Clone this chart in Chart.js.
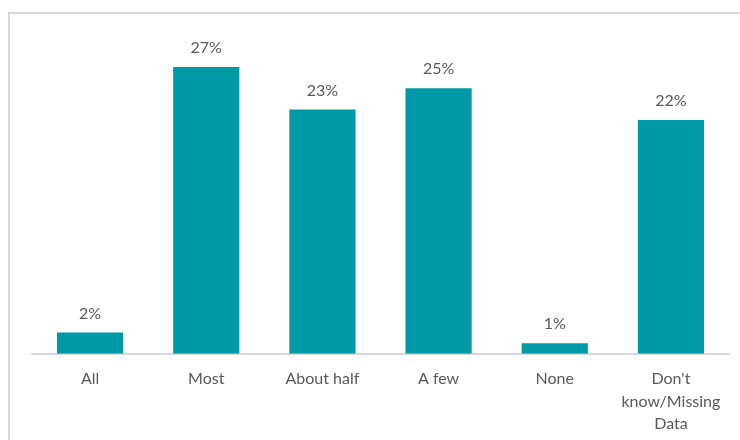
<!DOCTYPE html>
<html>
<head>
<meta charset="utf-8">
<script src="https://cdn.jsdelivr.net/npm/chart.js@4/dist/chart.umd.min.js"></script>
<style>
  html, body { margin: 0; padding: 0; background: #fff; }
  #wrap { position: relative; width: 740px; height: 440px; }
  #frame { position: absolute; left: 8px; top: 12px; right: -4px; bottom: -4px;
           border-left: 2px solid #d9d9d9; border-top: 2px solid #d9d9d9; pointer-events: none; }
  canvas { position: absolute; left: 0; top: 0; }
</style>
</head>
<body>
<div id="wrap">
  <canvas id="c" width="740" height="440"></canvas>
  <div id="frame"></div>
</div>
<script>
const categories = ["All", "Most", "About half", "A few", "None", ["Don't", "know/Missing", "Data"]];
const shares = [2, 27, 23, 25, 1, 22];

const barColor = "#009aa6";
const textColor = "#595959";
const fontFamily = "Lato, 'Open Sans', sans-serif";

const valueLabels = {
  id: "valueLabels",
  afterDatasetsDraw(chart) {
    const ctx = chart.ctx;
    const meta = chart.getDatasetMeta(0);
    ctx.save();
    ctx.fillStyle = textColor;
    ctx.font = "16px " + fontFamily;
    ctx.textAlign = "center";
    ctx.textBaseline = "middle";
    meta.data.forEach((bar, i) => {
      ctx.fillText(shares[i] + "%", bar.x, bar.y - 19);
    });
    ctx.restore();
  }
};

new Chart(document.getElementById("c"), {
  type: "bar",
  data: {
    labels: categories,
    datasets: [{
      data: shares,
      backgroundColor: barColor,
      borderWidth: 0,
      barPercentage: 0.57,
      categoryPercentage: 1
    }]
  },
  options: {
    responsive: false,
    animation: false,
    layout: { padding: { left: 32, right: 11, top: 35, bottom: -9 } },
    plugins: { legend: { display: false }, tooltip: { enabled: false } },
    scales: {
      x: {
        grid: { display: false, drawTicks: false },
        border: { color: "#d9d9d9", width: 2 },
        ticks: { color: textColor, font: { family: fontFamily, size: 16, lineHeight: 1.4 }, padding: 14, maxRotation: 0, autoSkip: false }
      },
      y: {
        display: false,
        min: 0,
        max: 30
      }
    }
  },
  plugins: [valueLabels]
});
</script>
</body>
</html>
